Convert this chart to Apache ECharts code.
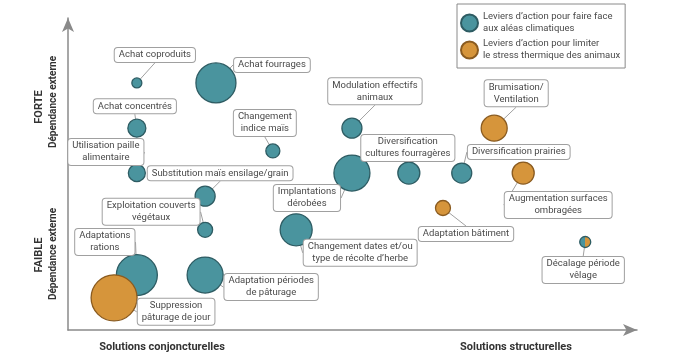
<!DOCTYPE html>
<html><head><meta charset="utf-8">
<script src="https://cdn.jsdelivr.net/npm/echarts@6/dist/echarts.min.js"></script>
<style>html,body{margin:0;padding:0;background:#fff}#c{width:690px;height:364px}</style>
</head><body><div id="c"></div>
<script>
// ---- data ----
const names = [
  'Achat coproduits', 'Achat fourrages', 'Achat concentrés', 'Changement\nindice maïs',
  'Utilisation paille\nalimentaire', 'Substitution maïs ensilage/grain', 'Exploitation couverts\nvégétaux',
  'Adaptations\nrations', 'Suppression\npâturage de jour', 'Adaptation périodes\nde pâturage',
  'Changement dates et/ou\ntype de récolte d’herbe', 'Implantations\ndérobées', 'Modulation effectifs\nanimaux',
  'Diversification\ncultures fourragères', 'Diversification prairies', 'Brumisation/\nVentilation',
  'Augmentation surfaces\nombragées', 'Adaptation bâtiment', 'Décalage période\nvêlage'
];
// x: conjoncturelles (0) -> structurelles (100); y: dépendance externe faible (0) -> forte (100)
const xValues = [12.1, 26.0, 12.1, 36.0, 12.1, 24.1, 24.1, 12.1, 8.1, 24.1, 40.1, 49.9, 49.9, 59.9, 69.2, 74.9, 80.0, 65.9, 90.9];
const yValues = [79.2, 79.2, 64.7, 57.4, 50.3, 42.9, 32.1, 17.6, 10.3, 17.6, 32.1, 50.3, 64.7, 50.3, 50.3, 64.7, 50.3, 39.1, 28.2];
const bubbleSizes = [10, 40, 18, 14, 17, 20, 15, 41, 46, 36, 32, 36, 20, 22, 20, 26, 22, 15, 11];
const groups = ['c','c','c','c','c','c','c','c','s','c','c','c','c','c','c','s','s','s','c'];
const seriesNames = ['Leviers d’action pour faire face\naux aléas climatiques', 'Leviers d’action pour limiter\nle stress thermique des animaux'];

// ---- layout of callout boxes (offset from bubble centre, px) ----
const labelOffsets = [
  [18,-28],[56,-18],[-2,-22],[-8,-28],[-31,-21],[15,-23],[-54,-18],[-32,-33],[62,14],[66,12],
  [64,23],[-45,25],[23,-37],[-1,-25],[57,-21],[22,-35],[35,32],[23,26],[-2,28]
];

const TEAL = '#4a949e', TEAL_B = '#2e5c63', ORANGE = '#d6953b', ORANGE_B = '#8a5b20';
const FONT = 'Roboto, "Liberation Sans Narrow", sans-serif';

function buildSeries(g, name, color, border, z) {
  const idx = [];
  names.forEach((n, i) => { if (groups[i] === g) idx.push(i); });
  return {
    type: 'scatter', name: name, z: z,
    data: idx.map(i => {
      const item = { name: names[i], value: [xValues[i], yValues[i], bubbleSizes[i]] };
      if (i === 18) {
        item.itemStyle = { color: { type: 'linear', x: 0, y: 0, x2: 1, y2: 0,
          colorStops: [{offset: 0, color: TEAL}, {offset: 0.5, color: TEAL}, {offset: 0.5, color: ORANGE}, {offset: 1, color: ORANGE}] } };
      }
      return item;
    }),
    symbolSize: v => v[2],
    itemStyle: { color: color, borderColor: border, borderWidth: 1.3, opacity: 1 },
    label: {
      show: true, position: 'inside', formatter: p => p.name,
      fontFamily: FONT, fontSize: 9.5, lineHeight: 12, color: '#4a4a4a',
      backgroundColor: '#fff', borderColor: '#a0a0a0', borderWidth: 1, borderRadius: 3,
      padding: [1, 4, 1, 4], align: 'center'
    },
    labelLine: { show: true, length2: 0, lineStyle: { color: '#a0a0a0', width: 1 } },
    labelLayout: p => {
      const o = labelOffsets[idx[p.dataIndex]];
      return { dx: o[0], dy: o[1] };
    },
    emphasis: { disabled: true }
  };
}

const chart = echarts.init(document.getElementById('c'));
chart.setOption({
  animation: false,
  grid: { left: 68, right: 53, top: 18, bottom: 34 },
  legend: {
    orient: 'vertical', left: 457, top: 4,
    borderColor: '#8a8a8a', borderWidth: 1, padding: [7, 5, 6, 3], itemGap: 3,
    itemWidth: 17, itemHeight: 17, icon: 'circle',
    textStyle: { fontFamily: FONT, fontSize: 9.5, lineHeight: 12, color: '#4a4a4a' },
    data: seriesNames
  },
  xAxis: {
    type: 'value', min: 0, max: 100,
    axisLine: { show: true, symbol: ['none', 'arrow'], symbolSize: [9, 14], lineStyle: { color: '#8a8a8a', width: 1.5 } },
    axisTick: { show: false }, axisLabel: { show: false }, splitLine: { show: false }
  },
  yAxis: {
    type: 'value', min: 0, max: 100,
    axisLine: { show: true, symbol: ['none', 'arrow'], symbolSize: [9, 14], lineStyle: { color: '#8a8a8a', width: 1.5 } },
    axisTick: { show: false }, axisLabel: { show: false }, splitLine: { show: false }
  },
  series: [
    buildSeries('c', seriesNames[0], TEAL, TEAL_B, 2),
    buildSeries('s', seriesNames[1], ORANGE, ORANGE_B, 3)
  ],
  graphic: [
    { type: 'text', x: 162, y: 347, style: { text: 'Solutions conjoncturelles', font: 'bold 11px ' + FONT, fill: '#333', align: 'center', verticalAlign: 'middle' } },
    { type: 'text', x: 516, y: 347, style: { text: 'Solutions structurelles', font: 'bold 11px ' + FONT, fill: '#333', align: 'center', verticalAlign: 'middle' } },
    { type: 'text', x: 39, y: 107, rotation: Math.PI / 2, style: { text: 'FORTE', font: 'bold 11px ' + FONT, fill: '#333', align: 'center', verticalAlign: 'middle' } },
    { type: 'text', x: 53, y: 102, rotation: Math.PI / 2, style: { text: 'Dépendance externe', font: 'bold 10px ' + FONT, fill: '#333', align: 'center', verticalAlign: 'middle' } },
    { type: 'text', x: 39, y: 255, rotation: Math.PI / 2, style: { text: 'FAIBLE', font: 'bold 11px ' + FONT, fill: '#333', align: 'center', verticalAlign: 'middle' } },
    { type: 'text', x: 53, y: 254, rotation: Math.PI / 2, style: { text: 'Dépendance externe', font: 'bold 10px ' + FONT, fill: '#333', align: 'center', verticalAlign: 'middle' } }
  ]
});
</script></body></html>
